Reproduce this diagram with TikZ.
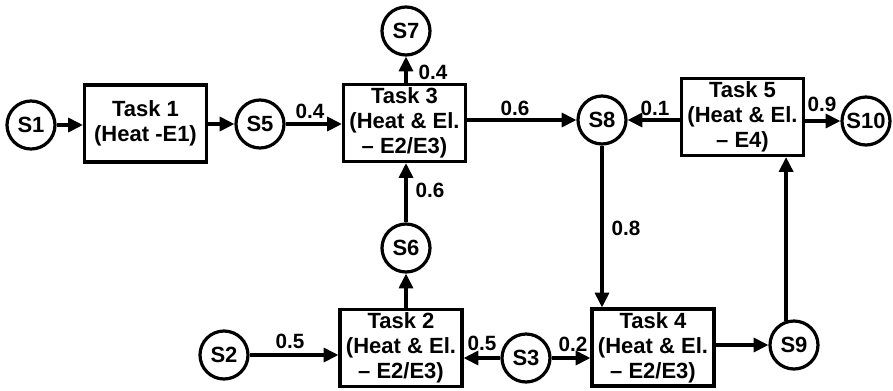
\documentclass[tikz,border=0pt]{standalone}
\usepackage{fontspec}
\setmainfont{Liberation Sans}
\usetikzlibrary{arrows.meta}
\begin{document}
\begin{tikzpicture}[x=0.75pt,y=-0.75pt,
  every node/.style={font=\bfseries\fontsize{16.5}{18.75}\selectfont},
  st/.style={draw,circle,line width=2.4pt,minimum size=36pt,inner sep=0pt},
  task/.style={draw,rectangle,line width=2.4pt,minimum width=91.5pt,minimum height=57.75pt,inner sep=0pt,align=center},
  arr/.style={line width=2.4pt,-{Triangle[length=11pt,width=10.5pt]}},
  lbl/.style={font=\bfseries\fontsize{15.5}{18}\selectfont,inner sep=0pt}]
\useasboundingbox (0,0) rectangle (893,390);
\node[st] (S1) at (31,125) {S1};
\node[task] (T1) at (145.5,123.5) {Task 1\\(Heat -E1)};
\node[st] (S5) at (260,124) {S5};
\node[task] (T3) at (404.5,123) {Task 3\\(Heat \& El.\\– E2/E3)};
\node[st] (S7) at (406,31) {S7};
\node[st] (S6) at (406,248) {S6};
\node[task] (T2) at (401,348) {Task 2\\(Heat \& El.\\– E2/E3)};
\node[st] (S2) at (224,355) {S2};
\node[st] (S3) at (526,358) {S3};
\node[task] (T4) at (653,347.5) {Task 4\\(Heat \& El.\\– E2/E3)};
\node[st] (S9) at (794,345) {S9};
\node[st] (S8) at (602,120) {S8};
\node[task] (T5) at (742.5,117) {Task 5\\(Heat \& El.\\– E4)};
\node[st] (S10) at (866,121) {S10};

\draw[arr] (S1) -- (S1 -| T1.west);
\draw[arr] (T1.east |- S5) -- (S5);
\draw[arr] (S5) -- (S5 -| T3.west);
\draw[arr] (T3.north -| S7) -- (S7);
\draw[arr] (S6) -- (S6 |- T3.south);
\draw[arr] (T2.north -| S6) -- (S6);
\draw[arr] (T3.east |- S8) -- (S8);
\draw[arr] (T5.west |- S8) -- (S8);
\draw[arr] (T5.east |- S10) -- (S10);
\draw[arr] (S8) -- (S8 |- T4.north);
\draw[arr] (S2) -- (S2 -| T2.west);
\draw[arr] (S3) -- (S3 -| T2.east);
\draw[arr] (S3) -- (S3 -| T4.west);
\draw[arr] (T4.east |- S9) -- (S9);
\draw[arr] (S9.108) -- (S9.108 |- T5.south);

\node[lbl] (l1) at (310,111) {0.4};
\node[lbl] (l2) at (433,72) {0.4};
\node[lbl] (l3) at (430,190) {0.6};
\node[lbl] (l4) at (515,108) {0.6};
\node[lbl] (l5) at (655,108) {0.1};
\node[lbl] (l6) at (822,104) {0.9};
\node[lbl] (l7) at (626,228) {0.8};
\node[lbl] (l8) at (290,341) {0.5};
\node[lbl] (l9) at (482,343) {0.5};
\node[lbl] (l10) at (573,344) {0.2};
\end{tikzpicture}
\end{document}
